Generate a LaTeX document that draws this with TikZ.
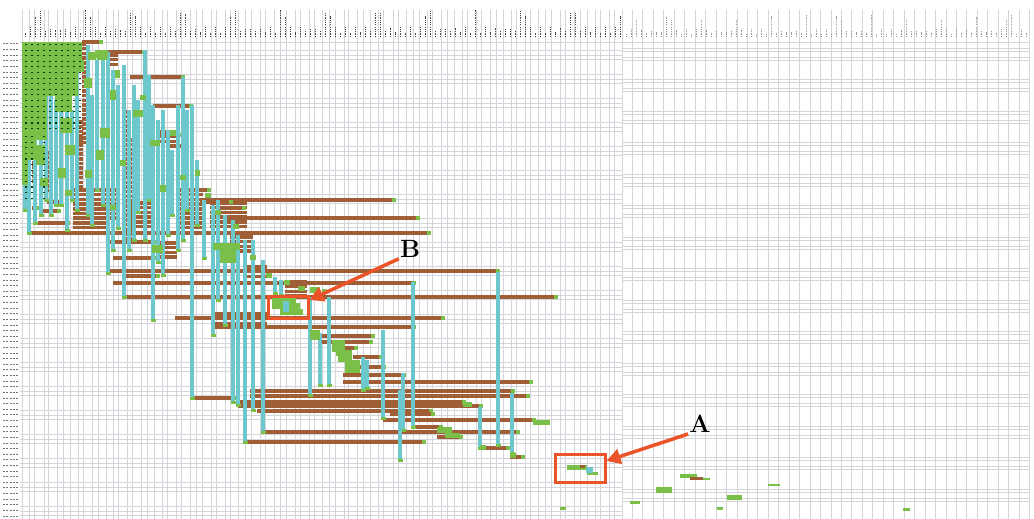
\documentclass[tikz,border=0pt]{standalone}
\usepackage{tikz}
\usetikzlibrary{arrows.meta, positioning, calc}
\definecolor{GridGrey}{RGB}{212,213,219}
\definecolor{BarBrown}{RGB}{160,94,54}
\definecolor{BarCyan}{RGB}{108,200,204}
\definecolor{CellGreen}{RGB}{122,192,72}
\definecolor{CallRed}{RGB}{234,84,40}
\definecolor{MarkInk}{RGB}{70,70,70}
\tikzset{
  gridln/.style={draw=GridGrey, line width=0.9pt},
  colmark/.style={draw=MarkInk, line width=0.9pt, dash pattern=on 1.2pt off 1.1pt},
  rowmark/.style={draw=MarkInk!75, line width=1pt, dash pattern=on 2pt off 1.3pt},
  brownbar/.style={draw=BarBrown, line width=3.5pt},
  cyanbar/.style={draw=BarCyan, line width=4.8pt},
  celldots/.style={draw=green!25!black, line width=1.1pt, dash pattern=on 1.1pt off 4.5pt},
  callbox/.style={draw=CallRed, line width=3pt, inner sep=0pt},
  callarrow/.style={draw=CallRed, line width=3.5pt, -{Triangle[length=14pt,width=15pt]}},
  calllabel/.style={font=\fontsize{25}{25}\selectfont\bfseries, text=black, inner sep=1pt}
}
\begin{document}
\begin{tikzpicture}[x=1pt,y=-1pt]
  \fill[white] (0,0) rectangle (1034,519);
  \useasboundingbox (0,0) rectangle (1034,519);
  % Grid columns
  \foreach \i in {0,...,85}
    \draw[gridln] ({22+\i*6.98+1.2*sin(\i*151)},10) -- ({22+\i*6.98+1.2*sin(\i*151)},519);
  \foreach \i in {0,...,39}
    \draw[gridln] ({622+\i*10.45},10) -- ({622+\i*10.45},519);
  % Grid rows
  \draw[gridln] (20,42) -- (1030,42);
  \foreach \c in {0,...,19}
    \foreach \d in {0,5,9}
      \draw[gridln] (20,{50+\c*24+\d}) -- (622,{50+\c*24+\d});
  \foreach \c in {0,...,14}
    \foreach \d in {0,3,9,12}
      \draw[gridln] (622,{48+\c*31.5+\d}) -- (1030,{48+\c*31.5+\d});
  % Column and row headers
  \foreach \i in {0,...,119}{
    \pgfmathsetmacro\hh{4+7*sin(\i*97)^2+16*(sin(\i*37)>0.8)}
    \draw[colmark] ({25+\i*5},37) -- ({25+\i*5},{37-\hh});
  }
  \foreach \i in {0,...,80}{
    \pgfmathsetmacro\hh{3+5*sin(\i*83)^2+14*(sin(\i*53)>0.85)}
    \draw[colmark, draw=MarkInk!55] ({626+\i*5},37) -- ({626+\i*5},{37-\hh});
  }
  \foreach \j in {0,...,84}
    \draw[rowmark] (3,{44+\j*5.62}) -- (19,{44+\j*5.62});
  % Stacked brown rows
  \foreach \xa/\xb/\ya/\nn in {82/86/44/22, 77/83/122/6, 106/118/55/3, 125/130/112/9,
      158/180/132/3, 32/36/153/7, 45/50/153/9, 75/83/140/11, 73/107/190/10,
      125/132/140/22, 177/203/190/9, 127/153/203/6, 210/247/203/6, 230/253/237/4,
      157/177/243/4, 247/267/267/3, 285/307/282/4, 107/120/190/7, 212/267/314/3,
      143/153/143/3}
    \foreach \k in {1,...,\nn}
      \draw[brownbar] (\xa,{\ya+4.7*(\k-1)}) -- (\xb,{\ya+4.7*(\k-1)});
  % Single brown rows
  \foreach \xa/\xb/\yy in {82/100/42, 106/143/52, 130/182/77, 153/190/106, 158/180/135,
      167/185/146, 200/393/200, 218/243/208, 223/417/218, 38/67/223, 28/428/233,
      110/153/242, 113/153/258, 110/497/271, 123/157/276, 113/413/283, 123/555/297,
      175/442/318, 212/413/327, 317/372/336, 320/370/342, 335/355/348, 353/380/357,
      355/383/367, 343/403/375, 343/530/382, 250/512/391, 250/527/396, 193/233/398,
      238/463/402, 238/480/406, 257/430/411, 390/432/414, 383/533/420, 413/440/427,
      263/517/432, 437/460/437, 245/423/442, 480/507/448, 510/522/457, 47/60/202,
      32/38/208, 42/58/211, 200/230/202, 197/208/190}{
    \draw[brownbar] (\xa,\yy) -- (\xb,\yy);
    \fill[CellGreen] ({\xb-1},{\yy-2}) rectangle ({\xb+3},{\yy+2});
  }
  % Cyan columns
  \foreach \xx/\ya/\yb in {25/55/210, 29/48/233, 35/60/223, 41/90/215, 46/70/200,
      51/60/215, 56/100/205, 61/80/205, 67/60/230, 72/110/200, 77/70/210, 88/45/215,
      92/95/225, 97/60/190, 103/55/205, 108/52/273, 113/70/250, 118/85/228, 124/65/297,
      129/110/250, 134/85/240, 138/100/212, 145/50/240, 149/75/200, 153/105/320,
      158/120/262, 163/110/275, 168/130/235, 172/150/215, 178/105/250, 183/77/240,
      187/110/210, 192/105/398, 197/160/225, 204/200/258, 213/205/335, 218/200/300,
      225/215/325, 233/220/402, 238/235/405, 245/240/442, 253/240/410, 263/260/432,
      275/277/293, 281/280/295, 310/297/395, 320/333/385, 329/297/385, 363/357/390,
      367/360/388, 383/330/418, 403/373/430, 400/390/460, 413/282/427, 480/407/448,
      498/272/445, 512/393/453}{
    \draw[cyanbar] (\xx,\ya) -- (\xx,\yb);
    \fill[CellGreen] ({\xx-2.5},{\yb-1}) rectangle ({\xx+2.5},{\yb+2});
  }
  % Green cells, top left
  \foreach \xa/\ya/\xb/\yb in {22/42/82/60, 22/60/47/140, 47/60/78/96, 22/140/36/160,
      55/96/72/112, 60/118/72/133, 36/145/45/165, 78/60/84/72, 22/160/28/185,
      88/52/96/60, 84/78/92/88, 95/50/108/58, 100/128/110/138, 65/145/75/155,
      58/168/66/178, 40/178/48/186, 96/150/104/160, 133/110/143/117, 110/90/116/100,
      150/140/160/146, 97/50/107/60, 100/130/110/137, 115/70/120/78, 140/95/146/100,
      120/160/126/166, 170/130/176/136, 160/185/166/192, 85/170/92/178, 65/190/72/196,
      180/175/186/180, 195/170/200/176, 110/205/116/210}
    \fill[CellGreen] (\xa,\ya) rectangle (\xb,\yb);
  \foreach \xx in {26,32,38,44,50,56,62,68,74,80}
    \draw[celldots] (\xx,44) -- (\xx,132);
  \foreach \xx in {26,32,44}
    \draw[celldots] (\xx,136) -- (\xx,200);
  % Green cells along the diagonal
  \foreach \xa/\ya/\xb/\yb in {205/193/211/198, 215/210/221/215, 233/224/239/229,
      213/243/240/250, 220/250/236/263, 152/245/163/253, 250/255/256/260,
      266/273/272/278, 284/280/290/285, 298/286/305/291, 310/287/320/293,
      322/289/327/293, 272/298/296/309, 280/309/303/315, 296/303/300/309,
      310/330/320/340, 332/340/345/352, 338/350/352/362, 345/360/360/373,
      336/346/340/356, 463/402/472/407, 437/427/452/433, 445/433/460/438,
      533/420/550/425, 480/445/486/450, 510/453/516/458, 567/465/587/470,
      587/472/598/475, 680/474/697/478, 703/478/710/480, 656/487/672/493,
      630/501/640/504, 560/507/566/510, 727/495/742/500, 717/507/723/510,
      768/484/780/486, 903/508/910/511}
    \fill[CellGreen] (\xa,\ya) rectangle (\xb,\yb);
  \fill[BarCyan] (283,301) rectangle (289,312);
  \fill[BarBrown] (580,465) rectangle (585,467.5);
  \fill[BarBrown] (690,477) rectangle (703,480);
  \fill[BarCyan] (586,467) rectangle (593,473);
  % Callouts
  \node[callbox, minimum width=40pt, minimum height=22pt] (boxB) at (288,307) {};
  \node[callbox, minimum width=50pt, minimum height=28pt] (boxA) at (580,468) {};
  \node[calllabel] (labB) at (410,249) {B};
  \node[calllabel] (labA) at (700,424) {A};
  \draw[callarrow] (labB.south west) -- (boxB.18);
  \draw[callarrow] (labA.south west) -- (boxA.15);
\end{tikzpicture}
\end{document}
